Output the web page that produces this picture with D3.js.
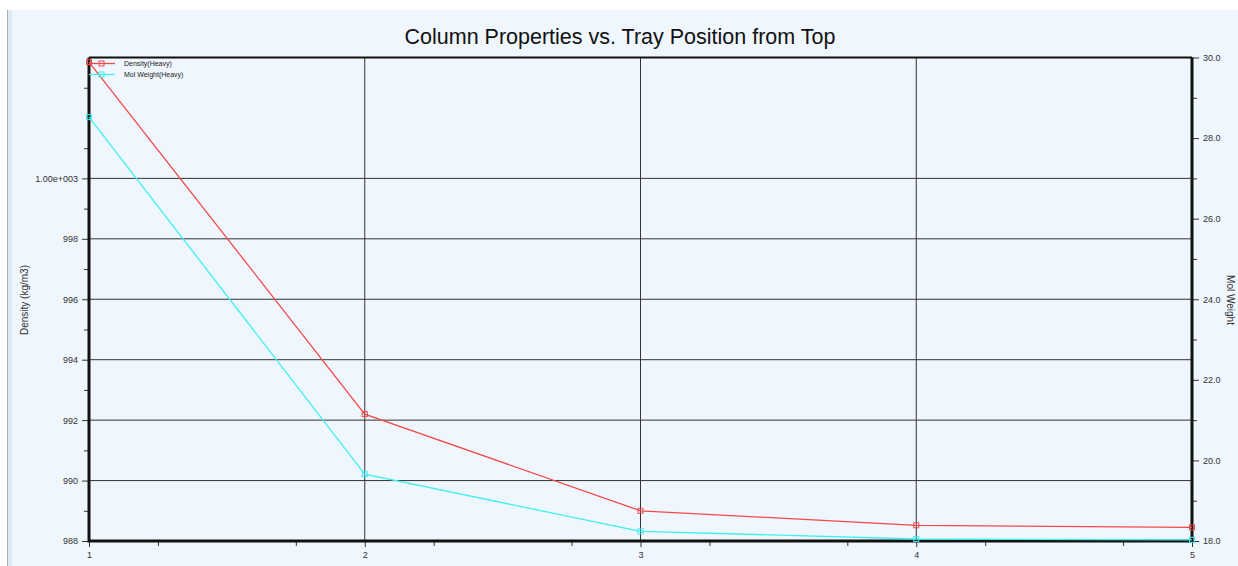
<!DOCTYPE html>
<html>
<head>
<meta charset="utf-8">
<script src="https://cdn.jsdelivr.net/npm/d3@7"></script>
<style>
  body { margin: 0; background: #fff; }
  svg { display: block; font-family: "Liberation Sans", Arial, sans-serif; }
</style>
</head>
<body>
<svg id="chart" width="1238" height="566"></svg>
<script>
const trays = [1, 2, 3, 4, 5];
const density = [1003.85, 992.2, 989.0, 988.52, 988.45];
const molWeight = [28.52, 19.66, 18.24, 18.05, 18.03];
const densityTicks = [988, 990, 992, 994, 996, 998, 1000];
const densityMinor = [989, 991, 993, 995, 997, 999, 1001, 1003];
const molTicks = [18, 20, 22, 24, 26, 28, 30];
const molMinor = [19, 21, 23, 25, 27, 29];
const trayMinor = [1.25, 1.75, 2.25, 2.75, 3.25, 3.75, 4.25, 4.75];
const seriesNames = ["Density(Heavy)", "Mol Weight(Heavy)"];

const svg = d3.select("#chart");
const width = 1238, height = 566;
const margin = { left: 89, top: 57.5, right: 46, bottom: 25 };
const innerWidth = width - margin.left - margin.right;
const innerHeight = height - margin.top - margin.bottom;

// background panel
svg.append("rect").attr("x", 8).attr("y", 10).attr("width", width - 8).attr("height", height - 10)
   .attr("fill", "#eff6fd");
svg.append("rect").attr("x", 8).attr("y", 10).attr("width", 4).attr("height", height - 10)
   .attr("fill", "#dde9f5");
svg.append("line").attr("x1", 7.5).attr("x2", 7.5).attr("y1", 10).attr("y2", height)
   .attr("stroke", "#a8adb3").attr("stroke-width", 1);

svg.append("text")
   .attr("x", 620).attr("y", 44)
   .attr("text-anchor", "middle")
   .attr("font-size", 21.5)
   .attr("fill", "#111")
   .text("Column Properties vs. Tray Position from Top");

const g = svg.append("g").attr("transform", `translate(${margin.left}, ${margin.top})`);

const xScale = d3.scaleLinear().domain([1, 5]).range([0, innerWidth]);
const yLeft = d3.scaleLinear().domain([988, 1004]).range([innerHeight, 0]);
const yRight = d3.scaleLinear().domain([18, 30]).range([innerHeight, 0]);

// gridlines
g.append("g").selectAll("line").data(densityTicks.slice(1)).join("line")
 .attr("x1", 0).attr("x2", innerWidth)
 .attr("y1", d => yLeft(d)).attr("y2", d => yLeft(d))
 .attr("stroke", "#333").attr("stroke-width", 1);
g.append("g").selectAll("line").data(trays.slice(1, -1)).join("line")
 .attr("x1", d => xScale(d)).attr("x2", d => xScale(d))
 .attr("y1", 0).attr("y2", innerHeight)
 .attr("stroke", "#333").attr("stroke-width", 1);

const styleAxis = (sel) => {
  sel.select(".domain").remove();
  sel.selectAll(".tick line").attr("stroke", "#333");
  sel.selectAll(".tick text").attr("fill", "#333").attr("font-size", 9)
     .attr("font-family", "Liberation Sans, Arial, sans-serif");
};
const styleMinor = (sel) => {
  styleAxis(sel);
  sel.selectAll(".tick text").remove();
};

// left axis
const leftAxis = g.append("g").call(d3.axisLeft(yLeft).tickValues(densityTicks)
    .tickSize(7).tickPadding(4).tickFormat(d => d === 1000 ? "1.00e+003" : d3.format("d")(d)));
styleAxis(leftAxis);
const leftMinor = g.append("g").call(d3.axisLeft(yLeft).tickValues(densityMinor).tickSize(5));
styleMinor(leftMinor);

// right axis
const rightAxis = g.append("g").attr("transform", `translate(${innerWidth}, 0)`)
  .call(d3.axisRight(yRight).tickValues(molTicks).tickSize(7).tickPadding(4).tickFormat(d3.format(".1f")));
styleAxis(rightAxis);
const rightMinor = g.append("g").attr("transform", `translate(${innerWidth}, 0)`)
  .call(d3.axisRight(yRight).tickValues(molMinor).tickSize(5));
styleMinor(rightMinor);

// bottom axis
const bottomAxis = g.append("g").attr("transform", `translate(0, ${innerHeight})`)
  .call(d3.axisBottom(xScale).tickValues(trays).tickSize(6).tickPadding(5).tickFormat(d3.format("d")));
styleAxis(bottomAxis);
const bottomMinor = g.append("g").attr("transform", `translate(0, ${innerHeight})`)
  .call(d3.axisBottom(xScale).tickValues(trayMinor).tickSize(5));
styleMinor(bottomMinor);

// frame
g.append("line").attr("x1", 0).attr("x2", innerWidth).attr("y1", 0).attr("y2", 0)
 .attr("stroke", "#111").attr("stroke-width", 2);
g.append("path")
 .attr("d", `M0,0V${innerHeight}H${innerWidth}V0`)
 .attr("fill", "none").attr("stroke", "#111").attr("stroke-width", 3);

// series
const series = [
  { name: seriesNames[0], values: density, y: yLeft, color: "#f24a4a" },
  { name: seriesNames[1], values: molWeight, y: yRight, color: "#3ff0f0" }
];

series.forEach(s => {
  const pts = trays.map((t, i) => [t, s.values[i]]);
  const line = d3.line().x(d => xScale(d[0])).y(d => s.y(d[1]));
  g.append("path").attr("d", line(pts))
   .attr("fill", "none").attr("stroke", s.color).attr("stroke-width", 1.3);
  g.append("g").selectAll("rect").data(pts).join("rect")
   .attr("x", d => xScale(d[0]) - 2.5).attr("y", d => s.y(d[1]) - 2.5)
   .attr("width", 5).attr("height", 5)
   .attr("fill", "none").attr("stroke", s.color).attr("stroke-width", 1);
});

// legend
const legend = g.append("g").attr("transform", "translate(0, 6)");
series.forEach((s, i) => {
  const row = legend.append("g").attr("transform", `translate(0, ${i * 11})`);
  row.append("line").attr("x1", 0).attr("x2", 26).attr("y1", 0).attr("y2", 0)
     .attr("stroke", s.color).attr("stroke-width", 1.3);
  row.append("rect").attr("x", 10).attr("y", -2.5).attr("width", 5).attr("height", 5)
     .attr("fill", "none").attr("stroke", s.color);
  row.append("text").attr("x", 35).attr("y", 2.5).attr("font-size", 7).attr("fill", "#222")
     .text(s.name);
});

// axis titles
svg.append("text")
   .attr("transform", "translate(28, 300) rotate(-90)")
   .attr("text-anchor", "middle").attr("font-size", 10).attr("fill", "#333")
   .text("Density (kg/m3)");
svg.append("text")
   .attr("transform", "translate(1227, 300) rotate(90)")
   .attr("text-anchor", "middle").attr("font-size", 10).attr("fill", "#333")
   .text("Mol Weight");
</script>
</body>
</html>
